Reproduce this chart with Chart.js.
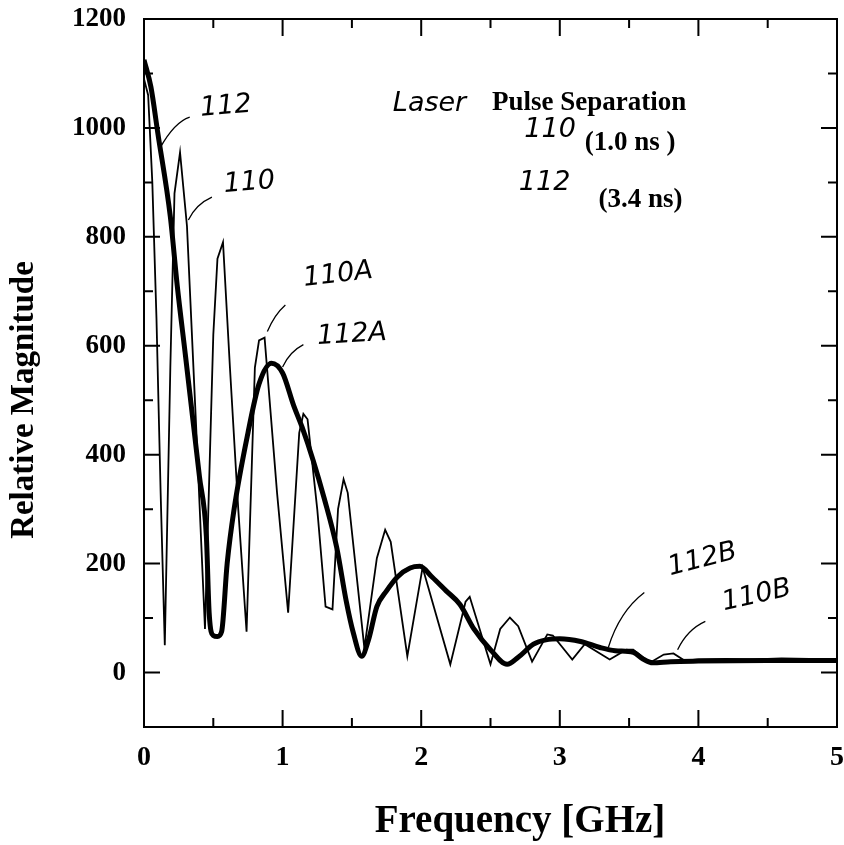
<!DOCTYPE html>
<html>
<head>
<meta charset="utf-8">
<script src="https://cdn.jsdelivr.net/npm/chart.js@4.4.0/dist/chart.umd.min.js"></script>
<style>
  html, body { margin: 0; padding: 0; background: #fff; }
  #wrap { width: 844px; height: 845px; }
</style>
</head>
<body>
<div id="wrap"><canvas id="chart" width="844" height="845"></canvas></div>
<script>
// curva 110 (separación 1.0 ns) — línea fina
const freq110 = [0.00, 0.03, 0.06, 0.09, 0.12, 0.15, 0.19, 0.22, 0.26, 0.31, 0.38, 0.44, 0.50, 0.53, 0.57,
  0.62, 0.68, 0.74, 0.80, 0.83, 0.87, 0.96, 1.04, 1.12, 1.15, 1.18, 1.25, 1.31, 1.36, 1.40, 1.44, 1.47,
  1.59, 1.68, 1.74, 1.78, 1.90, 2.01, 2.21, 2.32, 2.35, 2.50, 2.57, 2.64, 2.70, 2.80, 2.91, 2.95, 3.09,
  3.18, 3.36, 3.48, 3.53, 3.65, 3.75, 3.82, 3.90, 4.00, 4.20, 4.40, 4.60, 4.80, 5.00];
const mag110 = [1090, 1060, 900, 650, 330, 50, 560, 880, 955, 820, 430, 80, 620, 760, 790,
  560, 300, 75, 560, 610, 615, 330, 110, 440, 475, 465, 300, 121, 116, 300, 355, 330,
  45, 210, 262, 240, 30, 193, 15, 130, 139, 15, 80, 101, 85, 20, 70, 68, 24,
  52, 24, 42, 42, 18, 33, 35, 22, 24, 25, 24, 26, 25, 25];

// curva 112 (separación 3.4 ns) — línea gruesa
const freq112 = [0.00, 0.05, 0.10, 0.19, 0.24, 0.30, 0.35, 0.40, 0.45, 0.47, 0.50, 0.53, 0.56, 0.60, 0.65,
  0.75, 0.83, 0.92, 1.00, 1.08, 1.14, 1.22, 1.30, 1.39, 1.46, 1.51, 1.57, 1.62, 1.68, 1.75, 1.83, 1.92,
  1.99, 2.08, 2.18, 2.28, 2.38, 2.50, 2.62, 2.70, 2.81, 2.90, 3.00, 3.15, 3.29, 3.40, 3.53, 3.60, 3.67,
  3.80, 4.00, 4.50, 5.00];
const mag112 = [1125, 1075, 990, 837, 710, 580, 470, 360, 250, 110, 68, 66, 75, 200, 300,
  440, 530, 568, 550, 490, 451, 390, 320, 230, 130, 73, 30, 60, 121, 150, 176, 192,
  195, 175, 150, 125, 80, 42, 15, 28, 52, 60, 62, 57, 46, 40, 37, 25, 18,
  20, 21, 22, 22];

const xTickLabels = ['0', '1', '2', '3', '4', '5'];
const yTickLabels = ['0', '200', '400', '600', '800', '1000', '1200'];

// anotaciones manuscritas (coordenadas en unidades de datos)
const notas = [
  { t: '112', x: 0.59, y: 1039, rot: -0.08 },
  { t: '110', x: 0.76, y: 899, rot: -0.08 },
  { t: '110A', x: 1.40, y: 730, rot: -0.12 },
  { t: '112A', x: 1.50, y: 620, rot: -0.06 },
  { t: '112B', x: 4.03, y: 207, rot: -0.25 },
  { t: '110B', x: 4.42, y: 141, rot: -0.22 },
  { t: 'Laser', x: 2.06, y: 1044, rot: 0 },
  { t: '110', x: 2.93, y: 996, rot: 0 },
  { t: '112', x: 2.89, y: 899, rot: 0 }
];
const guias = [
  [[0.33, 1020], [0.22, 1011], [0.115, 963]],
  [[0.49, 873], [0.375, 860], [0.32, 831]],
  [[1.02, 675], [0.94, 657], [0.89, 626]],
  [[1.15, 602], [1.05, 589], [1.00, 561]],
  [[3.61, 147], [3.43, 112], [3.35, 46]],
  [[4.05, 94], [3.92, 79], [3.85, 42]]
];
const impresos = [
  { t: 'Pulse Separation', x: 2.51, y: 1046, size: 27 },
  { t: '(1.0 ns )', x: 3.18, y: 972, size: 27 },
  { t: '(3.4 ns)', x: 3.28, y: 868, size: 27 }
];

const serif = '"Liberation Serif", "Times New Roman", serif';

const marcoPlugin = {
  id: 'marco',
  afterDraw(chart) {
    const { ctx, chartArea: a, scales: { x, y } } = chart;
    ctx.save();
    ctx.strokeStyle = '#000';
    ctx.lineWidth = 2;
    ctx.strokeRect(a.left, a.top, a.right - a.left, a.bottom - a.top);

    // marcas hacia dentro
    ctx.beginPath();
    for (let v = 0; v < 1200; v += 100) {
      const py = y.getPixelForValue(v);
      const len = v % 200 === 0 ? 16 : 9;
      ctx.moveTo(a.left, py); ctx.lineTo(a.left + len, py);
      ctx.moveTo(a.right, py); ctx.lineTo(a.right - len, py);
    }
    for (let f = 0.5; f < 5; f += 0.5) {
      const px = x.getPixelForValue(f);
      const len = Number.isInteger(f) ? 17 : 9;
      ctx.moveTo(px, a.bottom); ctx.lineTo(px, a.bottom - len);
      ctx.moveTo(px, a.top); ctx.lineTo(px, a.top + len);
    }
    ctx.stroke();

    // líneas guía
    ctx.lineWidth = 1.3;
    guias.forEach(g => {
      ctx.beginPath();
      ctx.moveTo(x.getPixelForValue(g[0][0]), y.getPixelForValue(g[0][1]));
      ctx.quadraticCurveTo(x.getPixelForValue(g[1][0]), y.getPixelForValue(g[1][1]),
        x.getPixelForValue(g[2][0]), y.getPixelForValue(g[2][1]));
      ctx.stroke();
    });

    // texto manuscrito
    ctx.fillStyle = '#000';
    ctx.textAlign = 'center';
    ctx.textBaseline = 'middle';
    notas.forEach(n => {
      ctx.save();
      ctx.translate(x.getPixelForValue(n.x), y.getPixelForValue(n.y));
      ctx.rotate(n.rot);
      ctx.font = 'italic 200 27px "DejaVu Sans", sans-serif';
      ctx.fillText(n.t, 0, 0);
      ctx.restore();
    });

    // texto impreso de la leyenda
    ctx.textAlign = 'left';
    impresos.forEach(p => {
      ctx.font = 'bold ' + p.size + 'px ' + serif;
      ctx.fillText(p.t, x.getPixelForValue(p.x), y.getPixelForValue(p.y));
    });

    // títulos de los ejes
    ctx.textAlign = 'center';
    ctx.font = 'bold 39px ' + serif;
    ctx.fillText('Frequency [GHz]', 520, 822);
    ctx.save();
    ctx.translate(24, 400);
    ctx.rotate(-Math.PI / 2);
    ctx.font = 'bold 33px ' + serif;
    ctx.fillText('Relative Magnitude', 0, 0);
    ctx.restore();
    ctx.restore();
  }
};

new Chart(document.getElementById('chart'), {
  type: 'line',
  data: {
    datasets: [
      {
        label: '110',
        data: freq110.map((f, i) => ({ x: f, y: mag110[i] })),
        borderColor: '#000',
        borderWidth: 1.8,
        tension: 0,
        pointRadius: 0
      },
      {
        label: '112',
        data: freq112.map((f, i) => ({ x: f, y: mag112[i] })),
        borderColor: '#000',
        borderWidth: 5,
        cubicInterpolationMode: 'monotone',
        pointRadius: 0
      }
    ]
  },
  options: {
    responsive: false,
    animation: false,
    devicePixelRatio: 1,
    layout: { padding: { left: 0, right: 7, top: 19, bottom: 0 } },
    plugins: { legend: { display: false }, tooltip: { enabled: false } },
    scales: {
      x: {
        type: 'linear', min: 0, max: 5,
        grid: { display: false, drawTicks: false },
        border: { display: false },
        ticks: {
          stepSize: 1, maxRotation: 0, padding: 14, color: '#000',
          font: { family: serif, size: 28, weight: 'bold' },
          callback: v => xTickLabels[v] ?? ''
        },
        afterFit: s => { s.height = 118; s.paddingLeft = 0; s.paddingRight = 0; }
      },
      y: {
        min: -100, max: 1200,
        grid: { display: false, drawTicks: false },
        border: { display: false },
        ticks: {
          stepSize: 200, includeBounds: false, padding: 18, color: '#000',
          font: { family: serif, size: 27, weight: 'bold' },
          callback: v => yTickLabels[v / 200] ?? ''
        },
        afterFit: s => { s.width = 144; s.paddingTop = 0; s.paddingBottom = 0; }
      }
    }
  },
  plugins: [marcoPlugin]
});
</script>
</body>
</html>
